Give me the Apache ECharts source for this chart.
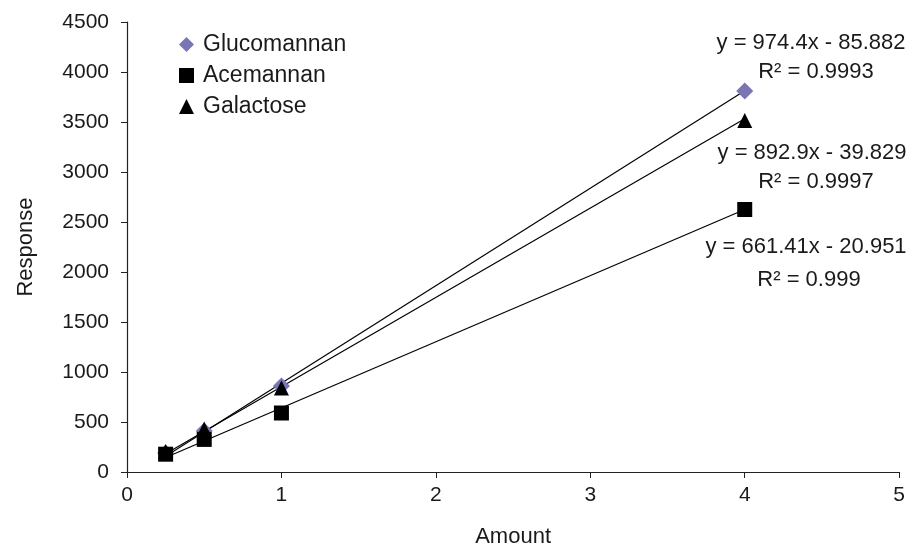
<!DOCTYPE html>
<html><head><meta charset="utf-8">
<script src="https://cdn.jsdelivr.net/npm/echarts@6/dist/echarts.min.js"></script>
<style>html,body{margin:0;padding:0;background:#fff}#c{width:908px;height:553px}</style>
</head><body><div id="c"></div>
<script>
const amounts = [0.25, 0.5, 1, 4];
const glucomannan = [190, 410, 860, 3810];
const acemannan = [178, 326, 590, 2625];
const galactose = [205, 430, 840, 3515];
const fitSlopes = { Glucomannan: 974.4, Galactose: 892.9, Acemannan: 661.41 };
const fitIntercepts = { Glucomannan: -85.882, Galactose: -39.829, Acemannan: -20.951 };
const eqTexts = ['y = 974.4x - 85.882', 'R² = 0.9993', 'y = 892.9x - 39.829', 'R² = 0.9997', 'y = 661.41x - 20.951', 'R² = 0.999'];
const fitRange = [0.25, 4];

const pts = arr => amounts.map((x, i) => [x, arr[i]]);
const fit = name => fitRange.map(x => [x, fitSlopes[name] * x + fitIntercepts[name]]);
const font = '"Liberation Sans", Arial, sans-serif';
const chart = echarts.init(document.getElementById('c'));
const lineSeries = name => ({
  type: 'line', data: fit(name), symbol: 'none', silent: true, z: 1,
  lineStyle: { color: '#000', width: 1.2 }, animation: false
});
const txt = (t, cx, cy) => ({ type: 'text', x: cx, y: cy, style: { text: t, fill: '#1a1a1a', font: '22px ' + font, textAlign: 'center', textVerticalAlign: 'middle' } });
chart.setOption({
  animation: false,
  grid: { left: 127, right: 3, top: 22, bottom: 75 },
  legend: {
    orient: 'vertical', left: 179, top: 33, padding: 0, itemGap: 8, itemWidth: 15, itemHeight: 15,
    textStyle: { fontFamily: font, fontSize: 23, color: '#1a1a1a', padding: [0, 0, 0, 4] },
    data: ['Glucomannan', 'Acemannan', 'Galactose']
  },
  xAxis: {
    type: 'value', min: 0, max: 5, interval: 1,
    name: 'Amount', nameLocation: 'middle', nameGap: 54,
    nameTextStyle: { fontFamily: font, fontSize: 22, color: '#1a1a1a' },
    axisLine: { lineStyle: { color: '#222', width: 1.2 } },
    axisTick: { show: true, length: 6, lineStyle: { color: '#222' } },
    axisLabel: { fontFamily: font, fontSize: 21, color: '#1a1a1a', margin: 13 },
    splitLine: { show: false }
  },
  yAxis: {
    type: 'value', min: 0, max: 4500, interval: 500,
    name: 'Response', nameLocation: 'middle', nameGap: 90,
    nameTextStyle: { fontFamily: font, fontSize: 22, color: '#1a1a1a' },
    axisLine: { show: true, lineStyle: { color: '#222', width: 1.2 } },
    axisTick: { show: true, length: 6, lineStyle: { color: '#222' } },
    axisLabel: { fontFamily: font, fontSize: 21, color: '#1a1a1a', margin: 18, formatter: v => String(v) },
    splitLine: { show: false }
  },
  series: [
    lineSeries('Glucomannan'), lineSeries('Galactose'), lineSeries('Acemannan'),
    { name: 'Glucomannan', type: 'scatter', data: pts(glucomannan), symbol: 'diamond', symbolSize: 17, itemStyle: { color: '#7a76b4', opacity: 1 }, z: 3 },
    { name: 'Acemannan', type: 'scatter', data: pts(acemannan), symbol: 'rect', symbolSize: 15, itemStyle: { color: '#000', opacity: 1 }, z: 3 },
    { name: 'Galactose', type: 'scatter', data: pts(galactose), symbol: 'triangle', symbolSize: 15, itemStyle: { color: '#000', opacity: 1 }, z: 4 }
  ],
  graphic: [
    txt(eqTexts[0], 811, 43), txt(eqTexts[1], 816, 72),
    txt(eqTexts[2], 812, 153), txt(eqTexts[3], 816, 182),
    txt(eqTexts[4], 806, 247), txt(eqTexts[5], 809, 280)
  ]
});
</script></body></html>
